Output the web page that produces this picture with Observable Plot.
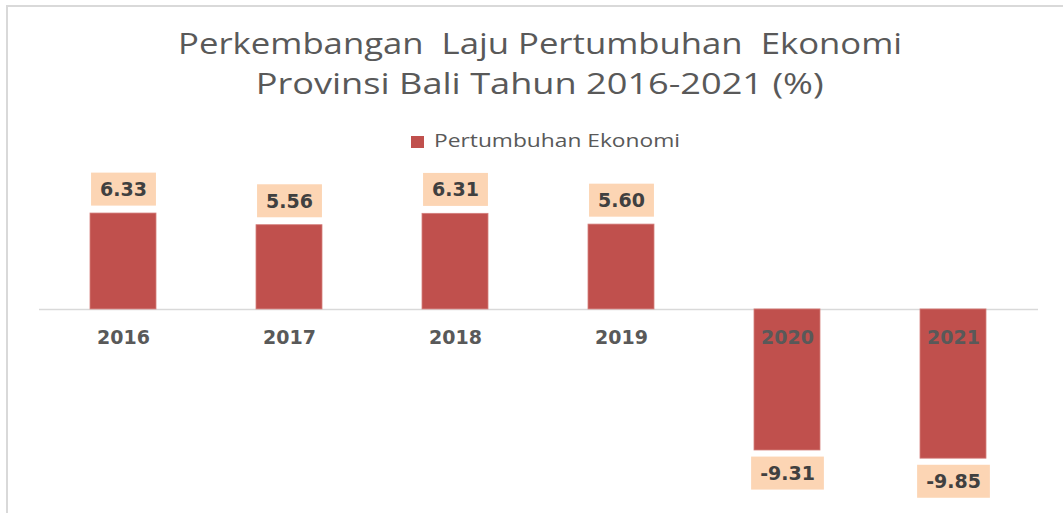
<!DOCTYPE html>
<html>
<head>
<meta charset="utf-8">
<script src="https://cdn.jsdelivr.net/npm/d3@7"></script>
<script src="https://cdn.jsdelivr.net/npm/@observablehq/plot@0.6"></script>
<style>
  html, body { margin: 0; padding: 0; background: #fff; }
  #wrap { position: relative; width: 1063px; height: 513px; overflow: hidden; background: #fff; }
  #frame { position: absolute; left: 6px; top: 5px; right: -10px; bottom: -10px;
           border-top: 2px solid #d9d9d9; border-left: 2px solid #d9d9d9; }
  .tl { position: absolute; left: 0; width: 1080px; text-align: center; white-space: nowrap;
        font-family: "Open Sans", sans-serif; font-size: 30px; line-height: 40px; color: #595959; }
  .tl span, #lg { display: inline-block; transform-origin: 50% 50%; }
  #legend { position: absolute; left: 0; width: 1090px; top: 128px; text-align: center; white-space: nowrap;
            font-family: "Open Sans", sans-serif; font-size: 18px; color: #595959; line-height: 24px; }
  #legend .sw { display: inline-block; width: 13px; height: 12px; background: #C0504D; margin-right: 10px; vertical-align: -1px; }
  #chart { position: absolute; left: 0; top: 160px; }
</style>
</head>
<body>
<div id="wrap">
  <div id="frame"></div>
  <div class="tl" style="top:23px"><span id="t1">Perkembangan&nbsp; Laju Pertumbuhan&nbsp; Ekonomi</span></div>
  <div class="tl" style="top:63px"><span id="t2">Provinsi Bali Tahun 2016-2021 (%)</span></div>
  <div id="legend"><span class="sw"></span><span id="lg">Pertumbuhan Ekonomi</span></div>
  <div id="chart"></div>
</div>
<script>
const years = ["2016", "2017", "2018", "2019", "2020", "2021"];
const growth = [6.33, 5.56, 6.31, 5.60, -9.31, -9.85];

const data = years.map((year, i) => ({year, value: growth[i]}));
const fmt = v => v.toFixed(2);
const numFont = "'DejaVu Sans', Verdana, sans-serif";

// stretch title / legend text horizontally to the reference widths
function fit(id, target) {
  const el = document.getElementById(id);
  const w = el.getBoundingClientRect().width;
  el.style.transform = "scaleX(" + (target / w) + ")";
}
fit("t1", 724);
fit("t2", 568);

// legend: stretch text, keep swatch placed just before it
(function () {
  const el = document.getElementById("lg");
  const w = el.getBoundingClientRect().width;
  const k = 246 / w;
  el.style.transformOrigin = "0 50%";
  el.style.transform = "scaleX(" + k + ")";
  el.style.marginRight = (246 - w) + "px";
})();

const plot = Plot.plot({
  width: 1063,
  height: 345,
  marginLeft: 39,
  marginRight: 25,
  marginTop: 0,
  marginBottom: 0,
  x: {domain: years, paddingInner: 0.6, paddingOuter: 0.3, axis: null},
  y: {domain: [-12.94, 9.83], axis: null},
  style: {background: "transparent", overflow: "visible"},
  marks: [
    Plot.ruleY([0], {stroke: "#d9d9d9", strokeWidth: 1.5}),
    Plot.barY(data, {x: "year", y: "value", fill: "#C0504D", stroke: "#d47f7c", strokeWidth: 0.8}),
    Plot.text(data, {x: "year", y: 0, text: "year", dy: 28, fontWeight: "bold", fontSize: 19,
                     fill: "#595959", fontFamily: numFont}),
    Plot.text(data.filter(d => d.value >= 0), {x: "year", y: "value", text: d => fmt(d.value), dy: -23.5,
                     fontWeight: "bold", fontSize: 19, fill: "#404040", fontFamily: numFont}),
    Plot.text(data.filter(d => d.value < 0), {x: "year", y: "value", text: d => fmt(d.value), dy: 23.5,
                     fontWeight: "bold", fontSize: 19, fill: "#404040", fontFamily: numFont})
  ]
});
document.getElementById("chart").appendChild(plot);

// label boxes behind the value labels, sized from the rendered text
const groups = plot.querySelectorAll('g[aria-label="text"]');
[groups[1], groups[2]].forEach(g => {
  const bg = document.createElementNS("http://www.w3.org/2000/svg", "g");
  if (g.getAttribute("transform")) bg.setAttribute("transform", g.getAttribute("transform"));
  g.querySelectorAll("text").forEach(t => {
    const b = t.getBBox();
    const r = document.createElementNS("http://www.w3.org/2000/svg", "rect");
    const cy = b.y + b.height / 2;
    r.setAttribute("x", b.x - 9);
    r.setAttribute("width", b.width + 18);
    r.setAttribute("y", cy - 16.5);
    r.setAttribute("height", 33);
    r.setAttribute("fill", "#FCD5B4");
    if (t.getAttribute("transform")) r.setAttribute("transform", t.getAttribute("transform"));
    bg.appendChild(r);
  });
  g.parentNode.insertBefore(bg, g);
});
</script>
</body>
</html>
